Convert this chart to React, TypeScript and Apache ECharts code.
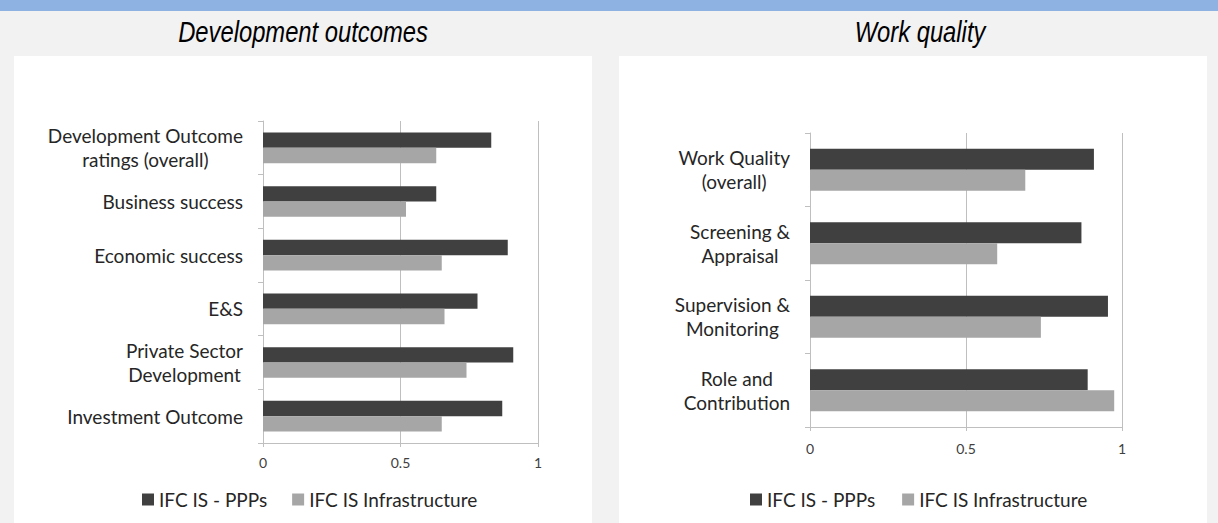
import React, { useEffect, useRef } from "react";
import * as echarts from "echarts";

const devCategories = [
  "Development Outcome\nratings (overall)",
  "Business success",
  "Economic success",
  "E&S",
  "Private Sector\nDevelopment",
  "Investment Outcome",
];
const devPPP = [0.83, 0.63, 0.89, 0.78, 0.91, 0.87];
const devInfra = [0.63, 0.52, 0.65, 0.66, 0.74, 0.65];

const wqCategories = [
  "Work Quality\n(overall)",
  "Screening &\nAppraisal",
  "Supervision &\nMonitoring",
  "Role and\nContribution",
];
const wqPPP = [0.91, 0.87, 0.955, 0.89];
const wqInfra = [0.69, 0.6, 0.74, 0.975];

const seriesNames = ["IFC IS - PPPs", "IFC IS Infrastructure"];
const xTicks = { min: 0, max: 1, interval: 0.5 };

const FONT = "Lato";
const DARK = "#404040";
const LIGHT = "#a6a6a6";
const AXIS = "#bfbfbf";

function catAxis(gridIndex: number, data: string[]) {
  return {
    type: "category",
    gridIndex,
    data,
    inverse: true,
    axisLine: { show: true, lineStyle: { color: AXIS, width: 1 } },
    axisTick: { show: true, length: 5, lineStyle: { color: AXIS } },
    axisLabel: {
      align: "right",
      margin: 20,
      fontFamily: FONT,
      fontSize: 19,
      color: "#262626",
      lineHeight: 24,
      formatter: (v: string) =>
        v
          .split("\n")
          .map((l) => `{c|${l}}`)
          .join("\n"),
      rich: {
        c: {
          align: "center",
          fontFamily: FONT,
          fontSize: 19,
          color: "#262626",
          lineHeight: 24,
        },
      },
    },
  };
}

function valAxis(gridIndex: number, margin: number) {
  return {
    type: "value",
    gridIndex,
    min: xTicks.min,
    max: xTicks.max,
    interval: xTicks.interval,
    axisLine: { show: true, lineStyle: { color: AXIS, width: 1 } },
    axisTick: { show: true, length: 4, lineStyle: { color: AXIS } },
    splitLine: { show: true, lineStyle: { color: AXIS, width: 1 } },
    axisLabel: {
      margin,
      fontFamily: FONT,
      fontSize: 14,
      color: "#404040",
    },
  };
}

function barSeries(name: string, idx: number, data: number[], color: string) {
  return {
    type: "bar",
    name,
    xAxisIndex: idx,
    yAxisIndex: idx,
    data,
    barGap: "0%",
    barCategoryGap: "43%",
    itemStyle: { color },
    emphasis: { disabled: true },
  };
}

function legend(left: number, gap: number) {
  return {
    left,
    top: 485,
    orient: "horizontal",
    itemWidth: 12,
    itemHeight: 12,
    itemGap: gap,
    icon: "rect",
    selectedMode: false,
    data: seriesNames,
    textStyle: { fontFamily: FONT, fontSize: 19, color: "#262626" },
  };
}

function title(text: string, x: number) {
  return {
    type: "text",
    x,
    y: 32,
    scaleX: 0.82,
    style: {
      text,
      font: 'italic 29px "Liberation Sans", Arial, sans-serif',
      fill: "#000",
      textAlign: "center",
      textVerticalAlign: "middle",
    },
  };
}

export default function App() {
  const ref = useRef<HTMLDivElement>(null);
  useEffect(() => {
    document.body.style.margin = "0";
    const chart = echarts.init(ref.current!, null, { renderer: "svg" });
    chart.setOption({
      animation: false,
      backgroundColor: "#f2f2f2",
      graphic: [
        { type: "rect", shape: { x: 0, y: 0, width: 1218, height: 11 }, style: { fill: "#8eb2e2" }, z: -10 },
        { type: "rect", shape: { x: 14, y: 56, width: 578, height: 480 }, style: { fill: "#ffffff" }, z: -10 },
        { type: "rect", shape: { x: 619, y: 56, width: 588, height: 480 }, style: { fill: "#ffffff" }, z: -10 },
        title("Development outcomes", 303),
        title("Work quality", 920),
      ],
      grid: [
        { left: 263, top: 121, width: 275, height: 322, containLabel: false },
        { left: 810, top: 133, width: 312, height: 294, containLabel: false },
      ],
      xAxis: [valAxis(0, 12), valAxis(1, 14)],
      yAxis: [catAxis(0, devCategories), catAxis(1, wqCategories)],
      legend: [legend(137, 25), legend(745, 27)],
      series: [
        barSeries(seriesNames[0], 0, devPPP, DARK),
        barSeries(seriesNames[1], 0, devInfra, LIGHT),
        barSeries(seriesNames[0], 1, wqPPP, DARK),
        barSeries(seriesNames[1], 1, wqInfra, LIGHT),
      ],
    });
    return () => chart.dispose();
  }, []);
  return <div ref={ref} style={{ width: 1218, height: 523 }} />;
}
